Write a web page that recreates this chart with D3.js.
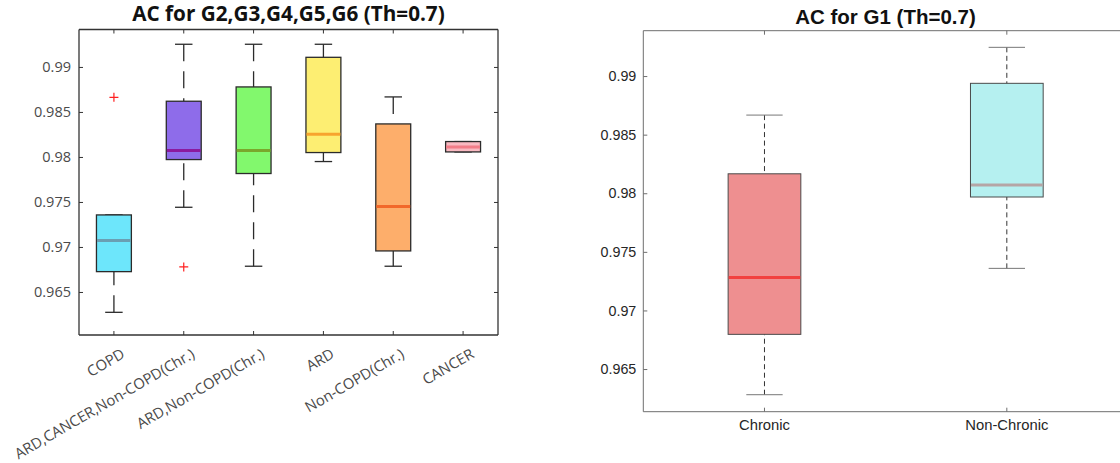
<!DOCTYPE html>
<html>
<head>
<meta charset="utf-8">
<script src="https://cdn.jsdelivr.net/npm/d3@7"></script>
<style>
  html, body { margin: 0; padding: 0; background: #fff; }
  svg { display: block; }
</style>
</head>
<body>
<svg id="chart" width="1120" height="463"></svg>
<script>
// ---- left panel data (G2..G6) ----
const leftCats = ["COPD", "ARD,CANCER,Non-COPD(Chr.)", "ARD,Non-COPD(Chr.)", "ARD", "Non-COPD(Chr.)", "CANCER"];
const leftLow  = [0.96274, 0.97441, 0.96786, 0.97949, 0.96786, 0.98056];
const leftQ1   = [0.96726, 0.97971, 0.97816, 0.98049, 0.96956, 0.98056];
const leftMed  = [0.97071, 0.98071, 0.98071, 0.98252, 0.97449, 0.98111];
const leftQ3   = [0.97356, 0.98619, 0.98778, 0.99107, 0.98367, 0.98171];
const leftHigh = [0.97356, 0.99252, 0.99252, 0.99252, 0.98667, 0.98171];
const leftOutliers = [[0.98663], [0.96778], [], [], [], []];
const leftTicks = [0.965, 0.97, 0.975, 0.98, 0.985, 0.99];

// ---- right panel data (G1) ----
const rightCats = ["Chronic", "Non-Chronic"];
const rightLow  = [0.96281, 0.97359];
const rightQ1   = [0.96796, 0.97968];
const rightMed  = [0.97282, 0.98070];
const rightQ3   = [0.98166, 0.98938];
const rightHigh = [0.98667, 0.99245];
const rightTicks = [0.965, 0.97, 0.975, 0.98, 0.985, 0.99];

const svg = d3.select("#chart");

function boxPanel(opt) {
  const g = svg.append("g");
  const x = d3.scaleBand().domain(opt.cats).range([opt.left, opt.right]).padding(0);
  const y = d3.scaleLinear().domain(opt.ydomain).range([opt.bottom, opt.top]);
  const bw = x.bandwidth();
  const cx = c => x(c) + bw / 2;

  const rows = opt.cats.map((c, i) => ({
    cat: c, low: opt.low[i], q1: opt.q1[i], med: opt.med[i], q3: opt.q3[i], high: opt.high[i],
    out: opt.outliers ? opt.outliers[i] : [], fill: opt.fills[i], medColor: opt.medColors[i]
  }));

  const clipId = "clip" + opt.id;
  svg.append("clipPath").attr("id", clipId).append("rect")
    .attr("x", 0).attr("y", 0).attr("width", 1120).attr("height", 463);

  // axes, ticks pointing inward like matlab
  const yAxis = g.append("g")
    .attr("transform", "translate(" + opt.left + ",0)")
    .call(d3.axisLeft(y).tickValues(opt.yticks).tickSizeInner(-4).tickSizeOuter(0).tickPadding(opt.tickPad)
      .tickFormat(d => String(+d.toFixed(3))));
  yAxis.select(".domain").remove();
  yAxis.selectAll("line").attr("stroke", opt.frameColor);
  yAxis.selectAll("text").attr("font-family", opt.font).attr("font-size", opt.tickFont).attr("fill", opt.labelColor);

  if (opt.rightFrame) {
    g.append("g").attr("transform", "translate(" + opt.right + ",0)")
      .call(d3.axisRight(y).tickValues(opt.yticks).tickSizeInner(-4).tickSizeOuter(0).tickFormat(""))
      .call(a => a.select(".domain").remove())
      .selectAll("line").attr("stroke", opt.frameColor);
  }

  const xTop = g.append("g").attr("transform", "translate(0," + opt.top + ")")
    .call(d3.axisTop(x).tickSizeInner(-4).tickSizeOuter(0).tickFormat(""));
  xTop.select(".domain").remove();
  xTop.selectAll("line").attr("stroke", opt.frameColor);

  const xBot = g.append("g").attr("transform", "translate(0," + opt.bottom + ")")
    .call(d3.axisBottom(x).tickSizeInner(-4).tickSizeOuter(0).tickPadding(opt.xPad));
  xBot.select(".domain").remove();
  xBot.selectAll("line").attr("stroke", opt.frameColor);
  xBot.selectAll("text").attr("font-family", opt.font).attr("font-size", opt.xFont).attr("fill", opt.labelColor);
  if (opt.rotate) {
    xBot.selectAll("text")
      .attr("text-anchor", "end")
      .attr("y", 0).attr("dy", 0)
      .attr("transform", "translate(" + opt.rotDx + "," + opt.rotDy + ") rotate(" + opt.rotate + ")");
  }

  const frame = g.append("g").attr("clip-path", "url(#" + clipId + ")")
    .attr("fill", "none").attr("stroke", opt.frameColor).attr("stroke-width", opt.frameWidth);
  frame.append("line").attr("x1", opt.left).attr("x2", opt.left).attr("y1", opt.top).attr("y2", opt.bottom);
  frame.append("line").attr("x1", opt.left).attr("x2", opt.right).attr("y1", opt.top).attr("y2", opt.top);
  frame.append("line").attr("x1", opt.left).attr("x2", opt.right).attr("y1", opt.bottom).attr("y2", opt.bottom);
  if (opt.rightFrame) frame.append("line").attr("x1", opt.right).attr("x2", opt.right).attr("y1", opt.top).attr("y2", opt.bottom);

  // boxes
  const box = g.append("g").selectAll("g").data(rows).join("g");

  box.append("line")
    .attr("x1", d => cx(d.cat)).attr("x2", d => cx(d.cat))
    .attr("y1", d => y(d.high)).attr("y2", d => y(d.q3))
    .attr("stroke", opt.whiskerColor).attr("stroke-width", opt.whiskerWidth).attr("stroke-dasharray", opt.dash);
  box.append("line")
    .attr("x1", d => cx(d.cat)).attr("x2", d => cx(d.cat))
    .attr("y1", d => y(d.low)).attr("y2", d => y(d.q1))
    .attr("stroke", opt.whiskerColor).attr("stroke-width", opt.whiskerWidth).attr("stroke-dasharray", opt.dash);
  ["low", "high"].forEach(k => {
    box.append("line")
      .attr("x1", d => cx(d.cat) - bw * opt.capFrac / 2).attr("x2", d => cx(d.cat) + bw * opt.capFrac / 2)
      .attr("y1", d => y(d[k])).attr("y2", d => y(d[k]))
      .attr("stroke", opt.capColor).attr("stroke-width", opt.whiskerWidth);
  });

  box.append("rect")
    .attr("x", d => cx(d.cat) - bw * opt.boxFrac / 2)
    .attr("width", bw * opt.boxFrac)
    .attr("y", d => y(d.q3))
    .attr("height", d => y(d.q1) - y(d.q3))
    .attr("fill", d => d.fill)
    .attr("stroke", opt.boxStroke).attr("stroke-width", opt.boxStrokeWidth);

  box.append("line")
    .attr("x1", d => cx(d.cat) - bw * opt.boxFrac / 2 + 0.5).attr("x2", d => cx(d.cat) + bw * opt.boxFrac / 2 - 0.5)
    .attr("y1", d => y(d.med)).attr("y2", d => y(d.med))
    .attr("stroke", d => d.medColor).attr("stroke-width", opt.medWidth);

  // outliers, red '+'
  const pts = rows.flatMap(d => d.out.map(v => ({ cat: d.cat, v: v })));
  g.append("g").selectAll("path").data(pts).join("path")
    .attr("d", d => {
      const px = cx(d.cat), py = y(d.v), s = 4.5;
      return "M" + (px - s) + "," + py + "H" + (px + s) + "M" + px + "," + (py - s) + "V" + (py + s);
    })
    .attr("stroke", "#ff2020").attr("stroke-width", 1.2).attr("fill", "none");

  g.append("text")
    .attr("x", opt.titleX).attr("y", opt.titleY)
    .attr("text-anchor", "middle")
    .attr("font-family", opt.titleFont).attr("font-weight", "bold").attr("font-size", opt.titleSize)
    .attr("fill", "#111")
    .text(opt.title);
}

boxPanel({
  id: "L", cats: leftCats,
  low: leftLow, q1: leftQ1, med: leftMed, q3: leftQ3, high: leftHigh, outliers: leftOutliers,
  yticks: leftTicks, ydomain: [0.96022, 0.99416],
  left: 79, right: 498, top: 29.5, bottom: 335,
  fills: ["#6de6fb", "#8e6cea", "#82f86d", "#fdee72", "#fdae6b", "#f9b9c1"],
  medColors: ["#6a9fb3", "#8b1a9e", "#7aa72c", "#f7a42e", "#f2682a", "#f27d88"],
  medWidth: 3, boxFrac: 0.5, capFrac: 0.25,
  boxStroke: "#2b2b2b", boxStrokeWidth: 1.3,
  whiskerColor: "#2b2b2b", capColor: "#2b2b2b", whiskerWidth: 1.3, dash: "17,10",
  frameColor: "#333", frameWidth: 1.3,
  font: "'Open Sans', 'Noto Sans', sans-serif", tickFont: 14.5, xFont: 14.8, labelColor: "#4a4a4a",
  tickPad: 8, xPad: 8, rotate: -30, rotDx: 12, rotDy: 22, rightFrame: true,
  title: "AC for G2,G3,G4,G5,G6 (Th=0.7)", titleX: 288.5, titleY: 20.5, titleSize: 20.7,
  titleFont: "'Open Sans', 'Noto Sans', sans-serif"
});

boxPanel({
  id: "R", cats: rightCats,
  low: rightLow, q1: rightQ1, med: rightMed, q3: rightQ3, high: rightHigh, outliers: null,
  yticks: rightTicks, ydomain: [0.96136, 0.99387],
  left: 643.3, right: 1128, top: 30.7, bottom: 411.7,
  fills: ["#ee8f90", "#b5f0f0"],
  medColors: ["#f2403f", "#b5a5a5"],
  medWidth: 3, boxFrac: 0.3, capFrac: 0.15,
  boxStroke: "#4a4a4a", boxStrokeWidth: 1,
  whiskerColor: "#333", capColor: "#777", whiskerWidth: 1, dash: "5,3.5",
  frameColor: "#6e6e6e", frameWidth: 1,
  font: "'Liberation Sans', Arial, sans-serif", tickFont: 14.3, xFont: 14.8, labelColor: "#262626",
  tickPad: 7, xPad: 8, rotate: 0, rightFrame: false,
  title: "AC for G1 (Th=0.7)", titleX: 885.5, titleY: 24, titleSize: 20.5,
  titleFont: "'Liberation Sans', Arial, sans-serif"
});
</script>
</body>
</html>
